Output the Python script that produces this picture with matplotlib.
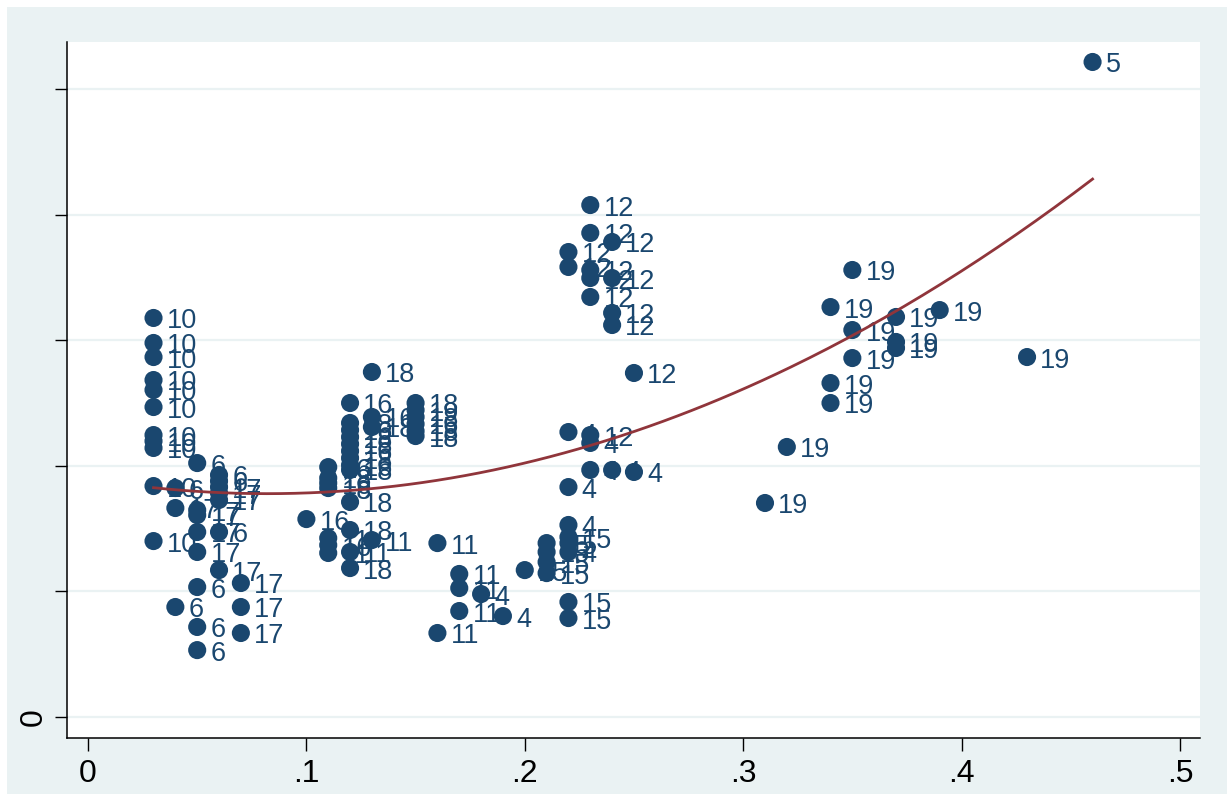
import numpy as np
import matplotlib
matplotlib.use('Agg')
import matplotlib.pyplot as plt
from matplotlib.patches import Rectangle

plt.rcParams['font.family'] = ['Liberation Sans', 'DejaVu Sans']

# data (y in units of the unlabeled tick spacing)
x_vals = [0.03, 0.03, 0.03, 0.03, 0.03, 0.03, 0.03, 0.03, 0.03, 0.03, 0.03,
          0.04, 0.04, 0.04,
          0.05, 0.05, 0.05, 0.05, 0.05, 0.05, 0.05, 0.05,
          0.06, 0.06, 0.06, 0.06, 0.06, 0.06, 0.06,
          0.07, 0.07, 0.07,
          0.10,
          0.11, 0.11, 0.11, 0.11, 0.11, 0.11, 0.11,
          0.12, 0.12, 0.12, 0.12, 0.12, 0.12, 0.12, 0.12, 0.12, 0.12, 0.12, 0.12, 0.12,
          0.13, 0.13, 0.13, 0.13,
          0.15, 0.15, 0.15, 0.15, 0.15, 0.15,
          0.16, 0.16,
          0.17, 0.17, 0.17,
          0.18, 0.19, 0.20,
          0.21, 0.21, 0.21, 0.21,
          0.22, 0.22, 0.22, 0.22, 0.22, 0.22, 0.22, 0.22, 0.22, 0.22,
          0.23, 0.23, 0.23, 0.23, 0.23, 0.23, 0.23, 0.23,
          0.24, 0.24, 0.24, 0.24, 0.24,
          0.25, 0.25,
          0.31, 0.32, 0.34, 0.34, 0.34, 0.35, 0.35, 0.35,
          0.37, 0.37, 0.37, 0.39, 0.43, 0.46]
y_vals = [3.177, 2.978, 2.866, 2.683, 2.604, 2.468, 2.245, 2.197, 2.142, 1.839, 1.401,
          1.823, 1.664, 0.876,
          2.022, 1.648, 1.608, 1.473, 1.314, 1.035, 0.717, 0.533,
          1.927, 1.879, 1.831, 1.783, 1.728, 1.473, 1.170,
          1.067, 0.876, 0.669,
          1.576,
          1.990, 1.903, 1.863, 1.823, 1.425, 1.369, 1.306,
          2.500, 2.341, 2.285, 2.229, 2.174, 2.118, 2.062, 2.006, 1.967, 1.712, 1.489, 1.314, 1.186,
          2.747, 2.389, 2.309, 1.409,
          2.500, 2.444, 2.389, 2.333, 2.277, 2.237,
          1.385, 0.669,
          1.139, 1.027, 0.844,
          0.979, 0.804, 1.170,
          1.385, 1.314, 1.234, 1.146,
          3.702, 3.583, 2.269, 1.831, 1.529, 1.433, 1.385, 1.314, 0.916, 0.788,
          4.076, 3.854, 3.559, 3.495, 3.344, 2.245, 2.182, 1.967,
          3.782, 3.495, 3.217, 3.121, 1.967,
          2.739, 1.951,
          1.704, 2.150, 3.264, 2.659, 2.500, 3.559, 3.081, 2.858,
          3.185, 2.986, 2.938, 3.240, 2.866, 5.215]
labels = ['10', '10', '10', '10', '10', '10', '10', '10', '10', '10', '10',
          '6', '17', '6',
          '6', '17', '17', '17', '17', '6', '6', '6',
          '6', '6', '17', '17', '17', '6', '17',
          '17', '17', '17',
          '16',
          '16', '18', '16', '18', '11', '16', '11',
          '16', '18', '16', '18', '18', '16', '18', '16', '18', '18', '18', '11', '18',
          '18', '16', '18', '11',
          '18', '19', '18', '16', '18', '18',
          '11', '11',
          '11', '11', '11',
          '4', '4', '15',
          '15', '15', '15', '15',
          '12', '12', '4', '4', '4', '15', '5', '4', '15', '15',
          '12', '12', '12', '12', '12', '12', '4', '4',
          '12', '12', '12', '12', '4',
          '12', '4',
          '19', '19', '19', '19', '19', '19', '19', '19',
          '19', '19', '19', '19', '19', '5']

navy = '#1A476F'
maroon = '#90353B'

fig = plt.figure(figsize=(12.27, 7.94), dpi=100, facecolor='white')
fig.patches.append(Rectangle((7 / 1227, 0), 1 - 7 / 1227, 1 - 7 / 794,
                             transform=fig.transFigure, facecolor='#EAF2F3',
                             edgecolor='none', zorder=-10))
ax = fig.add_axes([0.0546, 0.0705, 0.9234, 0.8766])
ax.set_facecolor('white')

ax.scatter(x_vals, y_vals, s=170, color=navy, edgecolors='none', zorder=3)
for x, y, lab in zip(x_vals, y_vals, labels):
    ax.annotate(lab, (x, y), xytext=(9.5, -2.5), textcoords='offset points',
                ha='left', va='center', fontsize=19.5, color=navy, zorder=3)

# quadratic fit
coef = np.polyfit(x_vals, y_vals, 2)
xf = np.linspace(min(x_vals), max(x_vals), 200)
ax.plot(xf, np.polyval(coef, xf), color=maroon, lw=2.0, zorder=4)

ax.set_xlim(-0.00962, 0.5092)
ax.set_ylim(-0.167, 5.374)
ax.set_xticks([0, 0.1, 0.2, 0.3, 0.4, 0.5])
ax.set_xticklabels(['0', '.1', '.2', '.3', '.4', '.5'])
ax.set_yticks([0, 1, 2, 3, 4, 5])
ax.set_yticklabels(['0', '', '', '', '', ''])
ax.tick_params(axis='x', length=9, width=1, labelsize=23, pad=6)
ax.tick_params(axis='y', length=9, width=1, labelsize=23, pad=4, labelrotation=90)
for t in ax.get_yticklabels():
    t.set_va('center')

ax.yaxis.grid(True, color='#EAF2F3', lw=1.6, zorder=0)
ax.set_axisbelow(True)
for side in ['top', 'right']:
    ax.spines[side].set_visible(False)
for side in ['left', 'bottom']:
    ax.spines[side].set_linewidth(1.1)

fig.savefig('out.png', dpi=100, facecolor=fig.get_facecolor())
